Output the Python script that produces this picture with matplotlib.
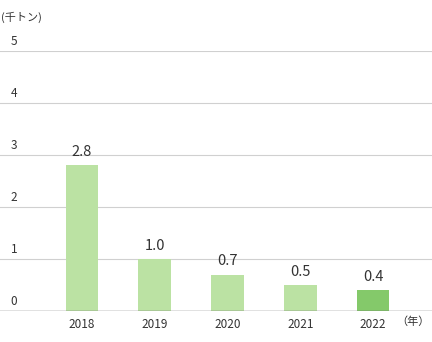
import matplotlib
matplotlib.use("Agg")
import matplotlib.pyplot as plt

plt.rcParams['font.family'] = ['Noto Sans CJK JP', 'DejaVu Sans']

years = ["2018", "2019", "2020", "2021", "2022"]
values = [2.8, 1.0, 0.7, 0.5, 0.4]
value_labels = ["2.8", "1.0", "0.7", "0.5", "0.4"]
yticks = [0, 1, 2, 3, 4, 5]
unit_label = "(千トン)"
year_label = "（年）"

light = "#bbe2a3"
dark = "#84c96a"
colors = [light] * 4 + [dark]
txt = "#333333"

fig = plt.figure(figsize=(4.32, 3.42), dpi=100)
ax = fig.add_axes([0, 31 / 342, 1, 260 / 342])

xs = list(range(len(years)))
ax.bar(xs, values, width=0.45, color=colors, zorder=3)
ax.set_xlim(-82 / 72.75, 4 + 59 / 72.75)
ax.set_ylim(0, 5)

for y in yticks[1:]:
    ax.axhline(y, color="#d0d0d0", lw=0.8, zorder=1)
ax.axhline(0, color="#666666", lw=1.0, zorder=4)

# value labels above bars
for x, v, lab in zip(xs, values, value_labels):
    ax.text(x, v + 0.12, lab, ha="center", va="bottom", fontsize=10.5, color=txt)

# y labels sit just above each gridline
for y in yticks:
    ax.text(14 / 432, y + 0.05, str(y), transform=ax.get_yaxis_transform(),
            ha="center", va="bottom", fontsize=8.5, color=txt)

for x, lab in zip(xs, years):
    ax.text(x, -0.13, lab, ha="center", va="top", fontsize=8.5, color=txt)

fig.text(430 / 432, 1 - 322 / 342, year_label, ha="right", va="center", fontsize=8, color=txt)
fig.text(1 / 432, 1 - 17 / 342, unit_label, ha="left", va="center", fontsize=8, color=txt)

for s in ax.spines.values():
    s.set_visible(False)
ax.set_xticks([])
ax.set_yticks([])

fig.savefig("out.png", dpi=100)
